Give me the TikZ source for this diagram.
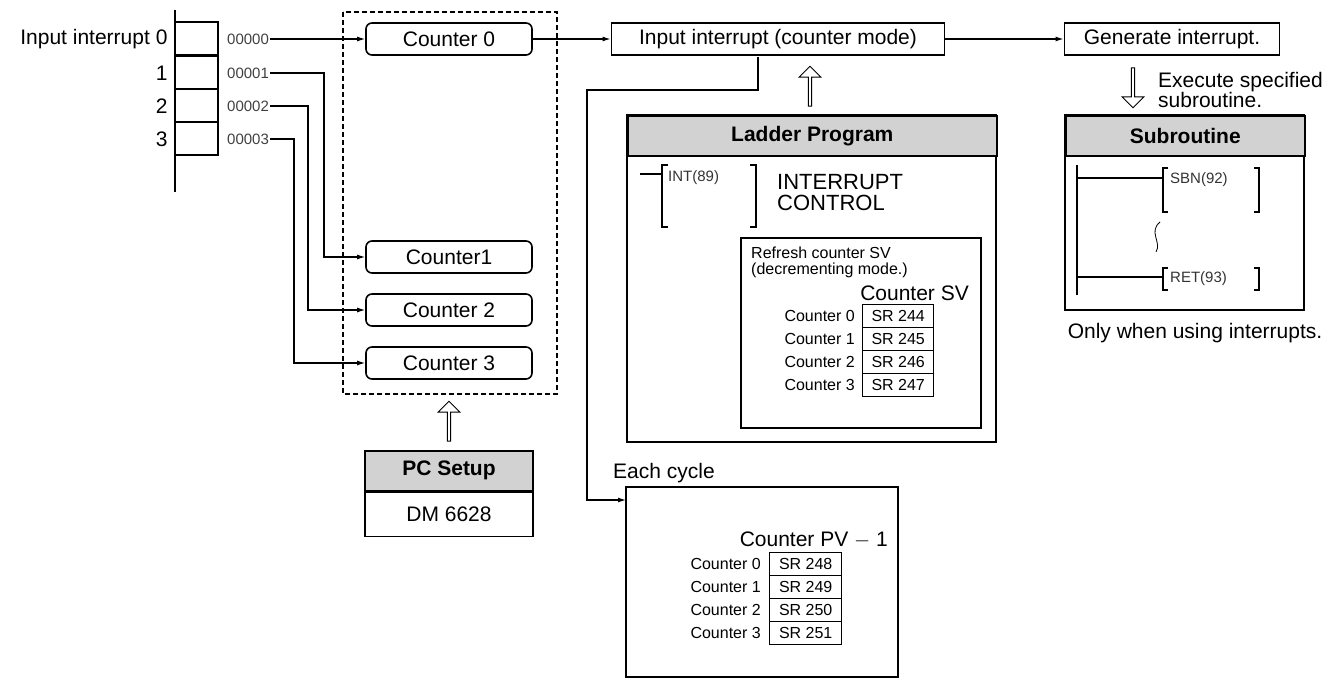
\documentclass[tikz,border=0pt]{standalone}
\usepackage{fontspec}
\setmainfont{Liberation Sans}
\usetikzlibrary{arrows.meta,positioning,shapes.arrows}
\tikzset{
  big/.style={font=\fontsize{21}{22}\selectfont},
  small/.style={font=\fontsize{16}{17}\selectfont},
  cnt/.style={draw, line width=1.6pt, rounded corners=6pt, minimum width=166pt, minimum height=32pt, big},
  sbox/.style={draw, line width=1.8pt, minimum height=32pt, big},
  head/.style={draw, line width=1.6pt, fill=gray!35, font=\bfseries\fontsize{21}{22}\selectfont},
  code/.style={font=\fontsize{15}{15}\selectfont, anchor=west, inner sep=1pt, text=black!75},
  cell/.style={draw, line width=1.4pt, minimum width=71pt, minimum height=23pt, inner sep=0pt, small},
  lbl/.style={small, anchor=east, inner sep=1pt},
  wire/.style={line width=1.2pt, -{Latex[length=8pt,width=5pt]}},
  hollow/.style={single arrow, draw, line width=0.9pt, minimum height=40pt, minimum width=22pt, single arrow head extend=2.5pt, single arrow head indent=0pt, inner sep=0pt}
}
\begin{document}
\begin{tikzpicture}[x=1pt, y=-1pt]
  \useasboundingbox (0,0) rectangle (1340,687);
  % Input interrupt table
  \draw[line width=1.6pt] (175,10) -- (175,192);
  \foreach \i/\y/\t in {0/22/Input interrupt 0,1/56/1,2/89/2,3/122/3}
  {
    \draw[line width=1.4pt] (175,\y) rectangle (218,\y+33);
    \node[anchor=east, big] at (171,\y+17) {\t};
    \node[code] (in\i) at (226,\y+17) {0000\i};
  }
  % Counter area
  \draw[line width=1.2pt, dash pattern=on 5pt off 3pt] (343,12) rectangle (557,394);
  \node[cnt] (c0) at (449,39) {Counter 0};
  \node[cnt] (c1) at (449,257) {Counter1};
  \node[cnt] (c2) at (449,310) {Counter 2};
  \node[cnt] (c3) at (449,363) {Counter 3};
  \draw[wire] (in0.east) -- (c0.west);
  \draw[wire] (in1.east) -| (324,257) -- (c1.west);
  \draw[wire] (in2.east) -| (308,310) -- (c2.west);
  \draw[wire] (in3.east) -| (294,363) -- (c3.west);
  % PC Setup
  \node[hollow, rotate=90] (up1) at (449,422) {};
  \node[head, minimum width=168pt, minimum height=40pt, anchor=north] (pch) at (449,450) {PC Setup};
  \node[draw, line width=1.6pt, minimum width=168pt, minimum height=44pt, below=0pt of pch, big] (dm) {DM 6628};
  % Top row
  \node[sbox, minimum width=333pt] (ii) at (778,39) {Input interrupt (counter mode)};
  \node[sbox, minimum width=215pt] (gi) at (1172,39) {Generate interrupt.};
  \draw[wire] (c0.east) -- (ii.west);
  \draw[wire] (ii.east) -- (gi.west);
  \node[hollow, rotate=-90] (dn1) at (1133,87) {};
  \node[align=left, anchor=north west, inner sep=0pt, font=\fontsize{21}{20}\selectfont] (ex) at (1158,72) {Execute specified\\subroutine.};
  % Ladder program
  \node[hollow, rotate=90] (up2) at (810,87) {};
  \draw[line width=1.6pt] (627,115) rectangle (996,442);
  \node[head, minimum width=369pt, minimum height=40pt, anchor=north west] (lph) at (627,115) {Ladder Program};
  \draw[line width=1.2pt] (640,174) -- (662,174);
  \draw[line width=1.2pt] (668,165) -| (662,227) -- (668,227);
  \draw[line width=1.2pt] (750,165) -| (756,227) -- (750,227);
  \node[anchor=north west, inner sep=0pt, font=\fontsize{15}{15}\selectfont, text=black!80] (int) at (668,170) {INT(89)};
  \node[anchor=north west, align=left, inner sep=0pt, font=\fontsize{22}{21}\selectfont] (ic) at (777,174) {INTERRUPT\\CONTROL};
  \draw[line width=1.6pt] (741,238) rectangle (981,428);
  \node[anchor=north west, align=left, inner sep=0pt, font=\fontsize{16}{16}\selectfont] (rf) at (751,247) {Refresh counter SV\\(decrementing mode.)};
  \node[anchor=east, inner sep=0pt, big] (sv) at (969,293) {Counter SV};
  \foreach \i in {0,...,3}
  {
    \pgfmathtruncatemacro{\sr}{244+\i}
    \node[cell, anchor=north west] (s\i) at (862,304+23*\i) {SR \sr};
    \node[lbl] at (856,315.5+23*\i) {Counter \i};
  }
  % Subroutine
  \draw[line width=1.6pt] (1065,115) rectangle (1304,310);
  \node[head, minimum width=239pt, minimum height=40pt, anchor=north west] (sbh) at (1065,115) {Subroutine};
  \draw[line width=1.6pt] (1077,165) -- (1077,295);
  \draw[line width=1.2pt] (1077,178) -- (1163,178);
  \draw[line width=1.2pt] (1077,277) -- (1163,277);
  \draw[line width=1.2pt] (1168,168) -| (1163,212) -- (1168,212);
  \draw[line width=1.2pt] (1254,168) -| (1259,212) -- (1254,212);
  \draw[line width=1.2pt] (1168,268) -| (1163,290) -- (1168,290);
  \draw[line width=1.2pt] (1254,268) -| (1259,290) -- (1254,290);
  \node[anchor=north west, inner sep=0pt, font=\fontsize{15}{15}\selectfont, text=black!80] at (1170,172) {SBN(92)};
  \node[anchor=north west, inner sep=0pt, font=\fontsize{15}{15}\selectfont, text=black!80] at (1170,271) {RET(93)};
  \draw[line width=0.8pt] (1160,222) .. controls (1148,232) and (1162,242) .. (1156,252);
  \node[big] (only) at (1195,333) {Only when using interrupts.};
  % Each cycle
  \coordinate (tap) at (758,57);
  \draw[line width=1.6pt] (626,487) rectangle (898,677);
  \node[anchor=south west, inner sep=1pt, big] (ec) at (612,484) {Each cycle};
  \draw[wire] (tap) -- (758,90) -| (587,500) -- (626,500);
  \node[anchor=east, inner sep=0pt, big] (pv) at (888,540) {Counter PV $-$ 1};
  \foreach \i in {0,...,3}
  {
    \pgfmathtruncatemacro{\sr}{248+\i}
    \node[cell, minimum width=72pt, anchor=north west] (p\i) at (769,552+23*\i) {SR \sr};
    \node[lbl] at (762,563.5+23*\i) {Counter \i};
  }
\end{tikzpicture}
\end{document}
